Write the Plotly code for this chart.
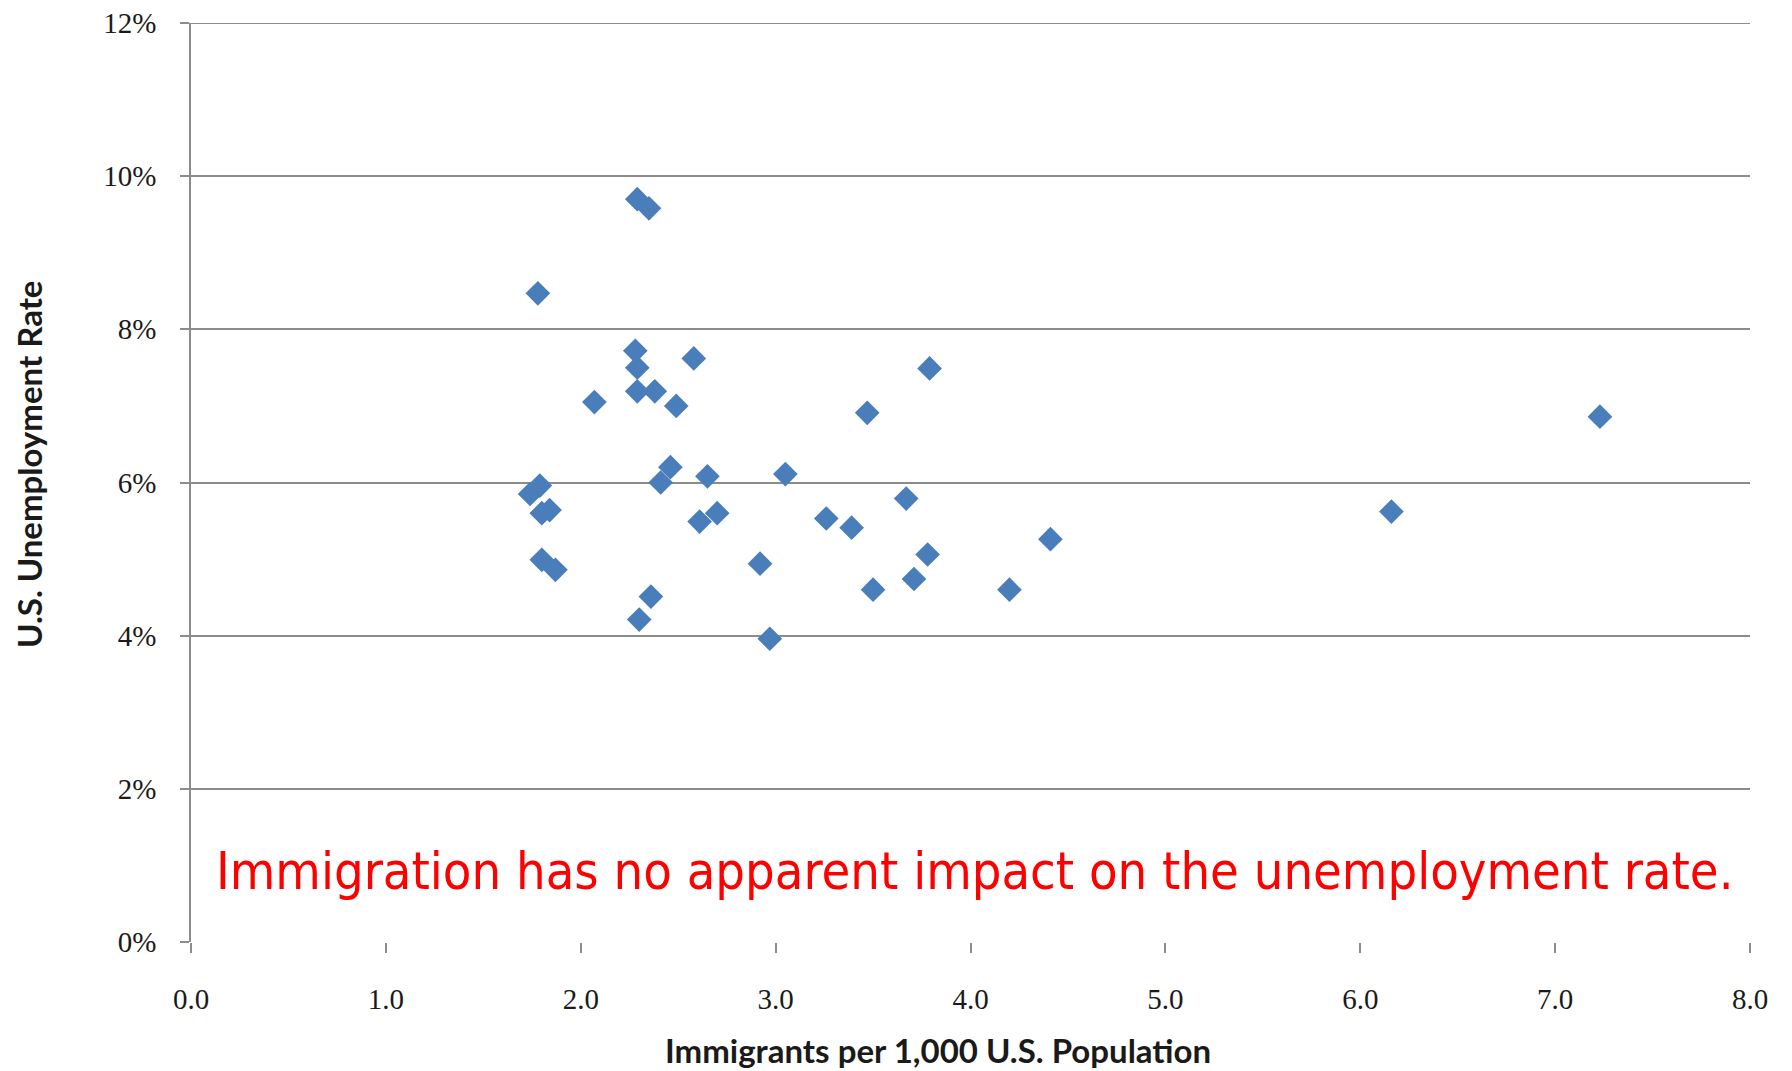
import plotly.graph_objects as go

# immigrants per 1,000 population vs unemployment rate (%)
immigrants = [2.29, 2.35, 1.78, 2.28, 2.29, 2.58, 3.79, 2.07, 2.29, 2.38, 2.49, 3.47, 7.23,
              2.46, 2.41, 2.65, 3.05, 1.79, 1.74, 1.80, 1.84, 2.61, 2.70, 3.26, 3.39, 3.67,
              6.16, 4.41, 1.80, 1.87, 2.92, 3.78, 3.71, 3.50, 4.20, 2.36, 2.30, 2.97]
unemployment = [9.70, 9.58, 8.47, 7.72, 7.50, 7.62, 7.49, 7.05, 7.19, 7.19, 7.00, 6.91, 6.86,
                6.20, 6.00, 6.08, 6.11, 5.96, 5.85, 5.60, 5.64, 5.49, 5.60, 5.53, 5.41, 5.79,
                5.62, 5.26, 4.99, 4.86, 4.94, 5.06, 4.74, 4.60, 4.60, 4.51, 4.21, 3.96]

x_ticks = [0, 1, 2, 3, 4, 5, 6, 7, 8]
y_ticks = [0, 2, 4, 6, 8, 10, 12]

x_title = "Immigrants per 1,000 U.S. Population"
y_title = "U.S. Unemployment Rate"
note = "Immigration has no apparent impact on the unemployment rate."

serif = "Liberation Serif"
sans_bold = "Lato"
grid = "#8c8c8c"

fig = go.Figure()

fig.add_trace(go.Scatter(
    x=immigrants,
    y=unemployment,
    mode="markers",
    marker=dict(symbol="diamond", size=19, color="#4a7ebb", line=dict(width=0)),
    showlegend=False,
))

# top gridline (plotly skips the one sitting on the range edge)
fig.add_shape(type="line", xref="paper", yref="y", x0=0, x1=1, layer="below",
              y0=max(y_ticks), y1=max(y_ticks), line=dict(color=grid, width=2))

fig.add_annotation(
    x=0.12, y=0.93, xref="x", yref="y",
    text=note, showarrow=False, xanchor="left", yanchor="middle",
    font=dict(family="DejaVu Sans Condensed, DejaVu Sans", size=52, color="#ff0000"),
)

# axis titles as annotations, they sit a bit off centre in the original
fig.add_annotation(
    x=0.479, y=-0.118, xref="paper", yref="paper",
    text=f"<b>{x_title}</b>", showarrow=False, xanchor="center", yanchor="middle",
    font=dict(family=sans_bold, size=33, color="#1a1a1a"),
)
fig.add_annotation(
    x=-0.104, y=0.52, xref="paper", yref="paper",
    text=f"<b>{y_title}</b>", showarrow=False, textangle=-90,
    xanchor="center", yanchor="middle",
    font=dict(family=sans_bold, size=33, color="#1a1a1a"),
)

fig.update_layout(
    width=1792, height=1071,
    margin=dict(l=183, r=50, t=15, b=137, autoexpand=False),
    plot_bgcolor="white",
    paper_bgcolor="white",
    font=dict(family=serif, size=29, color="#1a1a1a"),
)

fig.update_xaxes(
    range=[0, 8],
    tickvals=x_ticks,
    ticktext=[f"{v:.1f}" for v in x_ticks],
    showgrid=False,
    zeroline=False,
    showline=False,
    automargin=False,
    ticks="outside", ticklen=10, tickwidth=1.5, tickcolor=grid,
    ticklabelstandoff=21,
    ticklabeloverflow="allow",
    tickfont=dict(family=serif, size=29, color="#1a1a1a"),
)

fig.update_yaxes(
    range=[0, 12],
    tickvals=y_ticks,
    ticktext=[f"{v}%" for v in y_ticks],
    showgrid=True, gridcolor=grid, gridwidth=1.5,
    zeroline=False,
    showline=True, linecolor=grid, linewidth=1.5,
    automargin=False,
    ticks="outside", ticklen=9, tickwidth=1.5, tickcolor=grid,
    ticklabelstandoff=18,
    ticklabeloverflow="allow",
    tickfont=dict(family=serif, size=29, color="#1a1a1a"),
)

fig.write_html("out.html")
